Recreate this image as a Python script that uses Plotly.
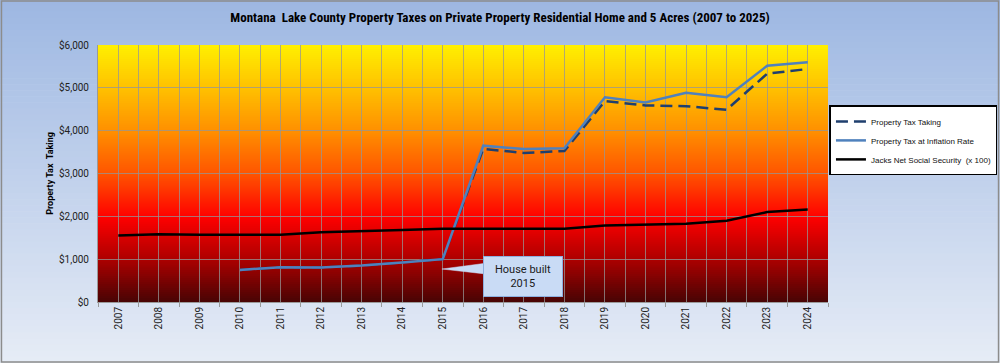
import plotly.graph_objects as go

years = list(range(2007, 2025))
tax_taking = [None, None, None, 750, 810, 805, 850, 920, 1000,
              3575, 3480, 3525, 4690, 4590, 4570, 4490, 5330, 5440]
tax_inflation = [None, None, None, 750, 810, 805, 850, 920, 1000,
                 3650, 3570, 3590, 4780, 4660, 4885, 4780, 5515, 5595]
social_security = [1550, 1580, 1570, 1570, 1570, 1630, 1650, 1680, 1710,
                   1715, 1710, 1710, 1786, 1800, 1826, 1896, 2100, 2160]
y_ticks = [0, 1000, 2000, 3000, 4000, 5000, 6000]
y_tick_labels = ["$0", "$1,000", "$2,000", "$3,000", "$4,000", "$5,000", "$6,000"]

W, H = 1000, 363
ML, MR, MT, MB = 98, 172, 45, 61
PW, PH = W - ML - MR, H - MT - MB


def lerp_stops(stops, t):
    for i in range(len(stops) - 1):
        t0, c0 = stops[i]
        t1, c1 = stops[i + 1]
        if t0 <= t <= t1:
            f = (t - t0) / (t1 - t0) if t1 > t0 else 0
            return "rgb(%d,%d,%d)" % tuple(round(c0[k] + (c1[k] - c0[k]) * f) for k in range(3))
    return "rgb(%d,%d,%d)" % stops[-1][1]


shapes = []
# figure background gradient (top -> bottom)
bg_stops = [(0.0, (157, 183, 226)), (1.0, (230, 236, 246))]
NB = 60
for i in range(NB):
    p0, p1 = i / NB, (i + 1) / NB
    y_top = (H - MB - p0 * H) / PH
    y_bot = (H - MB - p1 * H) / PH
    shapes.append(dict(type="rect", xref="paper", yref="paper",
                       x0=-ML / PW, x1=(W - ML) / PW, y0=y_bot, y1=y_top + 0.002,
                       fillcolor=lerp_stops(bg_stops, (p0 + p1) / 2),
                       line=dict(width=0), layer="below"))

# plot area gradient (bottom -> top)
pa_stops = [(0.0, (72, 4, 4)), (0.17, (175, 0, 0)), (0.33, (255, 0, 0)),
            (0.5, (255, 85, 0)), (0.67, (255, 145, 0)), (0.83, (255, 192, 0)),
            (1.0, (255, 240, 0))]
NP = 128
for i in range(NP):
    f0, f1 = i / NP, (i + 1) / NP
    shapes.append(dict(type="rect", xref="x domain", yref="y domain",
                       x0=0, x1=1, y0=f0, y1=min(f1 + 0.003, 1),
                       fillcolor=lerp_stops(pa_stops, (f0 + f1) / 2),
                       line=dict(width=0), layer="below"))

# outer border
shapes.append(dict(type="rect", xref="paper", yref="paper",
                   x0=-ML / PW + 0.002, x1=(W - ML) / PW - 0.002,
                   y0=-MB / PH + 0.004, y1=(H - MB) / PH - 0.004,
                   line=dict(color="#8c8c8c", width=1.5), fillcolor="rgba(0,0,0,0)",
                   layer="above"))

# callout pointer (wedge) from the note box toward the 2015 point
shapes.append(dict(type="path", xref="x", yref="y",
                   path="M 2014.98,770 L 2016.1,910 L 2016.1,650 Z",
                   fillcolor="#C9DBF5", line=dict(color="#C9DBF5", width=0.5),
                   layer="above"))

fig = go.Figure()
fig.add_trace(go.Scatter(x=years, y=tax_taking, name="Property Tax Taking",
                         mode="lines", line=dict(color="#1F3F6E", width=2.5, dash="12px,6px")))
fig.add_trace(go.Scatter(x=years, y=tax_inflation, name="Property Tax at Inflation Rate",
                         mode="lines", line=dict(color="#4F81BD", width=2.5)))
fig.add_trace(go.Scatter(x=years, y=social_security, name="Jacks Net Social Security  (x 100)",
                         mode="lines", line=dict(color="#000000", width=2.5)))

fig.add_annotation(x=2016.99, y=597, xref="x", yref="y",
                   xanchor="center", yanchor="middle",
                   text="House built<br>2015", showarrow=False,
                   bgcolor="#C9DBF5", bordercolor="#8DB0E0", borderwidth=1,
                   borderpad=6, width=66,
                   font=dict(family="Liberation Sans Narrow, Roboto, sans-serif",
                             size=11, color="#1a1a1a"))

fig.update_layout(
    width=W, height=H,
    margin=dict(l=ML, r=MR, t=MT, b=MB, autoexpand=False),
    paper_bgcolor="#E0E8F4",
    plot_bgcolor="rgba(0,0,0,0)",
    shapes=shapes,
    title=dict(text="<b>Montana  Lake County Property Taxes on Private Property Residential Home and 5 Acres (2007 to 2025)</b>",
               x=0.5, xanchor="center", y=0.953, yanchor="middle",
               font=dict(family="Liberation Sans Narrow, Roboto Condensed, sans-serif", size=13, color="#000")),
    font=dict(family="Liberation Sans Narrow, Roboto, sans-serif", size=9, color="#222"),
    showlegend=True,
    legend=dict(x=1.002, y=0.765, xanchor="left", yanchor="top",
                bgcolor="white", bordercolor="black", borderwidth=1.5,
                font=dict(family="Liberation Sans Narrow, sans-serif", size=8, color="#111"),
                itemwidth=30, tracegroupgap=0),
    hovermode=False,
)
fig.update_xaxes(range=[2006.5, 2024.5], tickmode="array", tickvals=years,
                 ticktext=[str(y) for y in years], tickangle=-90,
                 showgrid=True, gridcolor="rgba(150,150,150,0.75)", gridwidth=1,
                 ticks="", showline=True, linecolor="#9a9a9a", linewidth=1,
                 minor=dict(tick0=2006.5, dtick=1, showgrid=True,
                            gridcolor="rgba(150,150,150,0.75)", gridwidth=1,
                            ticks="outside", ticklen=4, tickcolor="#9a9a9a"),
                 tickfont=dict(size=10, color="#222"), zeroline=False)
fig.update_yaxes(range=[0, 6000], tickmode="array", tickvals=y_ticks, ticktext=y_tick_labels,
                 showgrid=True, gridcolor="rgba(150,150,150,0.75)", gridwidth=1,
                 showline=True, linecolor="#9a9a9a", linewidth=1, zeroline=False,
                 ticks="", tickfont=dict(size=10, color="#222"), ticklabelstandoff=6,
                 title=dict(text="<b>Property Tax  Taking</b>", font=dict(size=9, color="#000"),
                            standoff=3))

fig.write_html("out.html", config={"displayModeBar": False},
               post_script="document.body.style.margin='0';document.body.style.padding='0';"
                           "document.body.style.overflow='hidden';")
